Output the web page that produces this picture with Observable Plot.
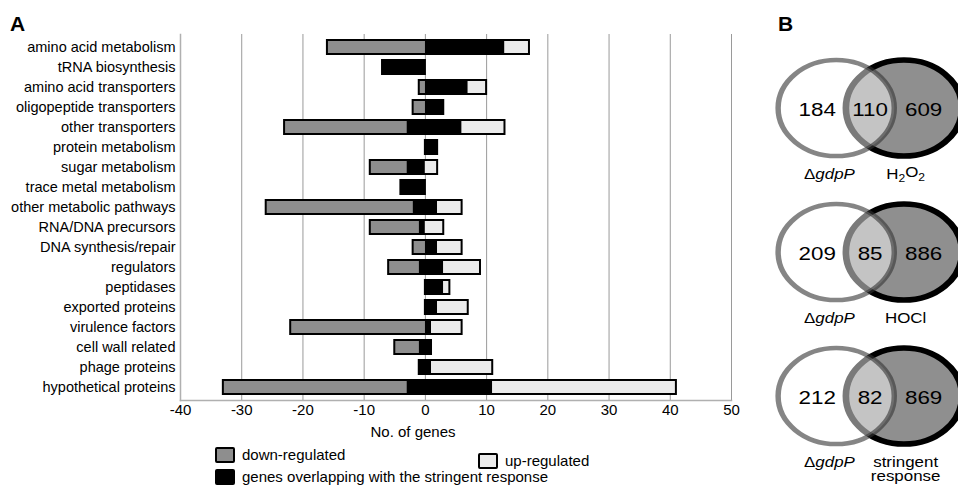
<!DOCTYPE html>
<html><head><meta charset="utf-8">
<script src="https://cdn.jsdelivr.net/npm/d3@7"></script>
<script src="https://cdn.jsdelivr.net/npm/@observablehq/plot@0.6"></script>
<style>
html,body{margin:0;padding:0;background:#fff;}
body{font-family:"Liberation Sans",Arial,sans-serif;color:#000;}
#wrap{position:relative;width:958px;height:487px;overflow:hidden;background:#fff;}
.abs{position:absolute;}
.panel{font-weight:bold;font-size:21px;line-height:1;}
.sw{position:absolute;width:16px;height:12px;border:2px solid #000;border-radius:2px;}
.lt{position:absolute;font-size:15px;line-height:1;white-space:nowrap;}
.axl{position:absolute;font-size:15px;line-height:1;white-space:nowrap;transform:translateX(-50%);}
</style></head><body>
<div id="wrap"></div>
<script>
// ---------- Panel A data ----------
const categories = ["amino acid metabolism","tRNA biosynthesis","amino acid transporters","oligopeptide transporters","other transporters","protein metabolism","sugar metabolism","trace metal metabolism","other metabolic pathways","RNA/DNA precursors","DNA synthesis/repair","regulators","peptidases","exported proteins","virulence factors","cell wall related","phage proteins","hypothetical proteins"];
const downTotal   = [-16,-7,-1,-2,-23,0,-9,-4,-26,-9,-2,-6,0,0,-22,-5,-1,-33];
const downOverlap = [0,-7,0,0,-3,0,-3,-4,-2,-1,0,-1,0,0,0,-1,-1,-3];
const upOverlap   = [13,0,7,3,6,2,0,0,2,0,2,3,3,2,1,1,1,11];
const upTotal     = [17,0,10,3,13,2,2,0,6,3,6,9,4,7,6,1,11,41];
const xTicks = [-40,-30,-20,-10,0,10,20,30,40,50];
const xLabel = "No. of genes";
const segKeys = ["down-regulated","genes overlapping with the stringent response","up-regulated"];
const segColors = ["#8e8e8e","#000000","#ebebeb"];

// ---------- Panel B data ----------
const vennComparisons = ["H2O2","HOCl","stringent\nresponse"];
const gdpOnly = [184,209,212];
const sharedGenes = [110,85,82];
const otherOnly = [609,886,869];
const leftSetLabel = "ΔgdpP";

const wrap = document.getElementById("wrap");
const FONT = "Liberation Sans, Arial, sans-serif";

// ---------- Panel A ----------
const rows = categories.map((c,i)=>({c, down:downTotal[i], dOv:downOverlap[i], uOv:upOverlap[i], up:upTotal[i]}));
const segs = [];
rows.forEach(r=>{
  if (r.down < r.dOv) segs.push({c:r.c, x1:r.down, x2:r.dOv, k:segKeys[0]});
  if (r.uOv > r.dOv) segs.push({c:r.c, x1:r.dOv, x2:r.uOv, k:segKeys[1]});
  if (r.up > r.uOv) segs.push({c:r.c, x1:r.uOv, x2:r.up, k:segKeys[2]});
});

const chartA = Plot.plot({
  width: 745, height: 420,
  marginLeft: 180, marginRight: 14, marginTop: 34, marginBottom: 20,
  style: {fontFamily: FONT, fontSize: "14.5px", color: "#000", background: "transparent", overflow: "visible"},
  x: {domain: [-40, 50]},
  y: {domain: categories, paddingInner: 0.3, paddingOuter: 0.3, round: false},
  color: {domain: segKeys, range: segColors},
  marks: [
    Plot.gridX(xTicks, {stroke: "#9a9a9a", strokeOpacity: 1, strokeWidth: 1}),
    Plot.frame({anchor: "bottom", stroke: "#b0b0b0", strokeWidth: 1.5}),
    Plot.frame({anchor: "left", stroke: "#b0b0b0", strokeWidth: 1.5}),
    Plot.barX(segs, {y: "c", x1: "x1", x2: "x2", fill: "k"}),
    Plot.barX(rows.filter(r=>r.up > r.down), {y: "c", x1: "down", x2: "up", fill: "none", stroke: "#000", strokeWidth: 2}),
    Plot.axisX(xTicks, {tickSize: 0, tickPadding: 4, fontSize: 15, tickFormat: d => String(d), label: null}),
    Plot.axisY({tickSize: 0, tickPadding: 5, fontSize: 14.5, label: null})
  ]
});
const divA = document.createElement("div");
divA.className = "abs"; divA.style.left = "0px"; divA.style.top = "0px"; divA.style.width = "745px";
divA.appendChild(chartA);
wrap.appendChild(divA);

// ---------- Panel B (drawn narrow, then stretched horizontally like the reference) ----------
const stretchB = 1.21;
const circ = [];
const nums = [];
const labs = [];
vennComparisons.forEach((cmp,i)=>{
  circ.push({cmp, side: "left", x: -1, y: 0}, {cmp, side: "right", x: 1, y: 0});
  nums.push({cmp, x: -1.56, v: gdpOnly[i]}, {cmp, x: 0.0, v: sharedGenes[i]}, {cmp, x: 1.58, v: otherOnly[i]});
  labs.push({cmp, x: -1.2, t: leftSetLabel}, {cmp, x: 1.05, t: cmp});
});

const chartB = Plot.plot({
  width: 180, height: 487,
  marginLeft: 79, marginRight: 45, marginTop: 49, marginBottom: 5,
  style: {fontFamily: FONT, color: "#000", background: "transparent", overflow: "visible"},
  x: {domain: [-1, 1], axis: null},
  y: {domain: [-1.2, 1.8], reverse: true, axis: null},
  fy: {domain: vennComparisons, axis: null, padding: 0},
  marks: [
    Plot.dot(circ.filter(d=>d.side==="right"), {fy: "cmp", x: "x", y: "y", r: 48, fill: "#8f8f8f", stroke: "#000", strokeWidth: 5.5}),
    Plot.dot(circ.filter(d=>d.side==="left"), {fy: "cmp", x: "x", y: "y", r: 48, fill: "#fff", fillOpacity: 0.48, stroke: "#333", strokeOpacity: 0.6, strokeWidth: 4.5}),
    Plot.text(nums, {fy: "cmp", x: "x", y: 0.04, text: d=>String(d.v), fontSize: 18.5, fill: "#000"}),
    Plot.text(labs, {fy: "cmp", x: "x", y: 1.25, text: "t", fontSize: 14, lineAnchor: "top", fill: "#000", lineHeight: 1.05})
  ]
});
// rich text: italic gene name and subscripts
d3.select(chartB).selectAll("text").each(function(){
  const s = this.textContent;
  const t = d3.select(this);
  if (s === "ΔgdpP") {
    t.text(null);
    t.append("tspan").text("Δ");
    t.append("tspan").attr("font-style","italic").text("gdpP");
  } else if (s === "H2O2") {
    t.text(null);
    t.append("tspan").text("H");
    t.append("tspan").attr("font-size","10px").attr("dy","0.35em").text("2");
    t.append("tspan").attr("dy","-0.35em").text("O");
    t.append("tspan").attr("font-size","10px").attr("dy","0.35em").text("2");
  }
});
const divB = document.createElement("div");
divB.className = "abs"; divB.style.left = "740px"; divB.style.top = "0px"; divB.style.width = "180px";
divB.style.transformOrigin = "0 0"; divB.style.transform = `scaleX(${stretchB})`;
divB.appendChild(chartB);
wrap.appendChild(divB);

// ---------- Text outside the SVGs ----------
function addDiv(cls, text, left, top){
  const d = document.createElement("div");
  d.className = cls; d.textContent = text; d.style.left = left + "px"; d.style.top = top + "px";
  wrap.appendChild(d); return d;
}
addDiv("abs panel", "A", 10, 13);
addDiv("abs panel", "B", 778, 13);
addDiv("axl", xLabel, 413, 424);

// ---------- Legend (below panel A) ----------
const legendItems = [
  {k: segKeys[0], color: segColors[0], left: 215, top: 447},
  {k: segKeys[2], color: segColors[2], left: 478, top: 453},
  {k: segKeys[1], color: segColors[1], left: 215, top: 469}
];
legendItems.forEach(it=>{
  const s = document.createElement("div");
  s.className = "sw"; s.style.left = it.left + "px"; s.style.top = it.top + "px"; s.style.background = it.color;
  wrap.appendChild(s);
  addDiv("lt", it.k, it.left + 27, it.top);
});
</script>
</body></html>
